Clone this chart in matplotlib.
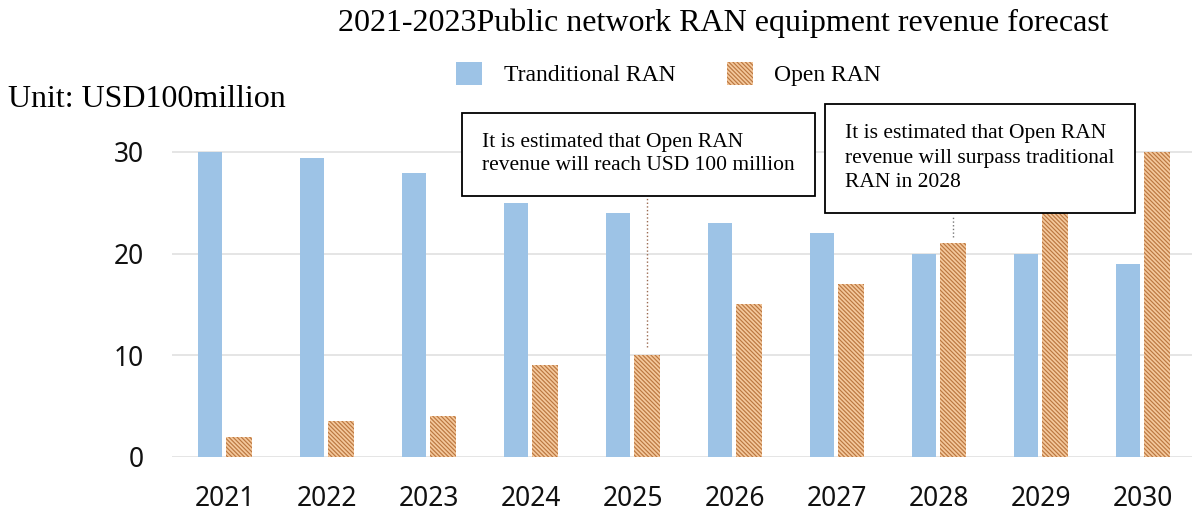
import numpy as np
import matplotlib.pyplot as plt

years = ['2021', '2022', '2023', '2024', '2025', '2026', '2027', '2028', '2029', '2030']
traditional = [30, 29.4, 27.9, 25, 24, 23, 22, 20, 20, 19]
open_ran = [2, 3.5, 4, 9, 10, 15, 17, 21, 24, 30]

plt.rcParams['hatch.linewidth'] = 0.85

fig = plt.figure(figsize=(11.92, 5.11), dpi=100)
ax = fig.add_axes([0.1443, 0.1057, 0.8557, 0.6368])

x = np.arange(len(years))
b1 = ax.bar(x - 0.145, traditional, width=0.24, color='#9dc3e6', label='Tranditional RAN', zorder=3)
b2 = ax.bar(x + 0.135, open_ran, width=0.255, color='#f4c89c', edgecolor='#bb7740',
            linewidth=0, hatch='\\\\\\\\\\\\\\\\', label='Open RAN', zorder=3)

ax.set_xlim(-0.52, 9.48)
ax.set_ylim(0, 32)
ax.set_yticks([0, 10, 20, 30])
ax.set_xticks(x)
ax.set_xticklabels(years)
ax.yaxis.grid(True, color='#e0e0e0', linewidth=1.2, zorder=0)
for s in ax.spines.values():
    s.set_visible(False)
ax.tick_params(axis='both', length=0, labelsize=19, colors='#111111')
for lab in ax.get_xticklabels() + ax.get_yticklabels():
    lab.set_family('Noto Sans')
ax.tick_params(axis='x', pad=20)
ax.tick_params(axis='y', pad=20)

serif = 'Liberation Serif'
fig.text(0.607, 0.955, '2021-2023Public network RAN equipment revenue forecast',
         family=serif, fontsize=23, ha='center', va='center')
fig.text(0.007, 0.805, 'Unit: USD100million', family=serif, fontsize=23, ha='left', va='center')

fig.legend(handles=[b1, b2], loc='center', bbox_to_anchor=(0.561, 0.855), ncol=2, frameon=False,
           prop={'family': serif, 'size': 17}, handlelength=1.1, handleheight=1.1,
           handletextpad=0.9, columnspacing=2.2)

# annotation boxes
box = dict(boxstyle='square,pad=0.95', facecolor='white', edgecolor='black', linewidth=1.3)
fig.text(482 / 1192, 1 - 133 / 511, 'It is estimated that Open RAN\nrevenue will reach USD 100 million',
         family=serif, fontsize=15.5, ha='left', va='top', bbox=box, linespacing=1.3, zorder=5)
fig.text(845 / 1192, 1 - 124 / 511, 'It is estimated that Open RAN\nrevenue will surpass traditional\nRAN in 2028',
         family=serif, fontsize=15.5, ha='left', va='top', bbox=box, linespacing=1.4, zorder=5)

ax.plot([4 + 0.135, 4 + 0.135], [10.8, 25.6], color='#9a6a50', linestyle=':', linewidth=1, zorder=2)
ax.plot([7 + 0.135, 7 + 0.135], [21.6, 23.7], color='#777777', linestyle=':', linewidth=1, zorder=2)

fig.savefig('out.png', dpi=100)
